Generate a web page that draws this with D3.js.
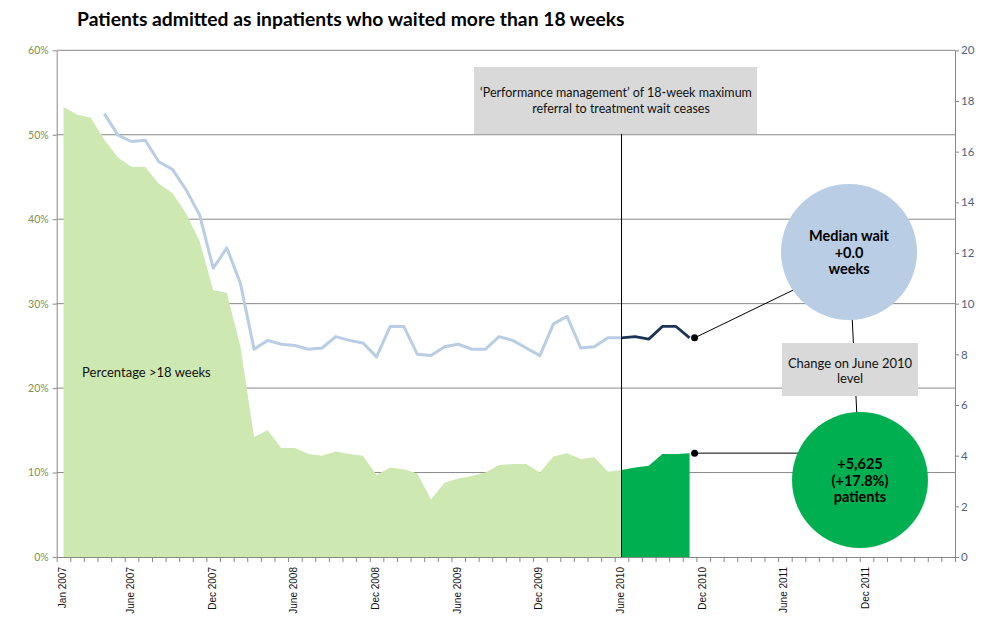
<!DOCTYPE html>
<html lang="en">
<head>
<meta charset="utf-8">
<title>Patients waiting more than 18 weeks</title>
<script src="https://d3js.org/d3.v7.min.js"></script>
<style>
  body { margin: 0; background: #fff; }
  svg { display: block; }
</style>
</head>
<body>
<svg id="chart" width="995" height="626"></svg>
<script>
// months on the category axis: Jan 2007 .. June 2012
var months = d3.timeMonth.range(new Date(2007, 0, 1), new Date(2012, 6, 1));

// % of admitted patients waiting > 18 weeks, Jan 2007 .. June 2010
var pctBefore = [53.3, 52.4, 52.0, 49.4, 47.3, 46.2, 46.2, 44.2, 43.1, 40.7, 37.4, 31.6,
                 31.3, 24.9, 14.2, 15.0, 12.9, 12.9, 12.2, 12.0, 12.5, 12.2, 12.0, 9.7,
                 10.6, 10.4, 9.9, 6.8, 8.8, 9.3, 9.6, 10.0, 10.9, 11.0, 11.0, 10.0,
                 11.9, 12.3, 11.6, 11.8, 10.1, 10.3];
// June 2010 .. Nov 2010
var pctAfter = [10.3, 10.6, 10.8, 12.2, 12.2, 12.3];

// median wait (weeks), Apr 2007 .. June 2010
var waitBefore = [17.5, 16.65, 16.4, 16.45, 15.6, 15.3, 14.5, 13.5, 11.4,
                  12.2, 10.8, 8.2, 8.55, 8.4, 8.35, 8.2, 8.25, 8.7, 8.55, 8.45, 7.9,
                  9.1, 9.1, 8.0, 7.95, 8.3, 8.4, 8.2, 8.2, 8.7, 8.55, 8.25, 7.95,
                  9.2, 9.5, 8.25, 8.3, 8.65, 8.65];
// June 2010 .. Nov 2010
var waitAfter = [8.65, 8.7, 8.6, 9.1, 9.1, 8.65];

var tickMonths = ["2007-01", "2007-06", "2007-12", "2008-06", "2008-12", "2009-06",
                  "2009-12", "2010-06", "2010-12", "2011-06", "2011-12"];
var tickLabels = ["Jan 2007", "June 2007", "Dec 2007", "June 2008", "Dec 2008", "June 2009",
                  "Dec 2009", "June 2010", "Dec 2010", "June 2011", "Dec 2011"];

var pctTicks = [0, 10, 20, 30, 40, 50, 60];
var weekTicks = [0, 2, 4, 6, 8, 10, 12, 14, 16, 18, 20];

// colours
var lightGreen = "#cde8b1",
    darkGreen = "#00b050",
    lightBlue = "#b9cde4",
    navy = "#1b3555",
    grid = "#888888",
    boxGrey = "#d9d9d9";

// plot frame (px)
var pLeft = 56.7, pRight = 955, pTop = 50.3, pBottom = 557;

var svg = d3.select("#chart");
var key = d3.timeFormat("%Y-%m");

var x = d3.scaleBand().domain(months.map(key)).range([pLeft, pRight]).padding(0);
var bw = x.bandwidth();
function xc(i) { return x(key(months[i])) + bw / 2; }
var y = d3.scaleLinear().domain([0, 60]).range([pBottom, pTop]);
var yw = d3.scaleLinear().domain([0, 20]).range([pBottom, pTop]);

var idxJun2010 = months.findIndex(function (m) { return key(m) === "2010-06"; });
var idxApr2007 = 3;

// gridlines
svg.append("g").selectAll("line").data(pctTicks.slice(1)).join("line")
  .attr("x1", pLeft).attr("x2", pRight)
  .attr("y1", function (d) { return y(d); }).attr("y2", function (d) { return y(d); })
  .attr("stroke", grid).attr("stroke-width", 1);

// green areas
var area = d3.area()
  .x(function (d) { return xc(d.i); })
  .y0(pBottom).y1(function (d) { return y(d.v); });

var before = pctBefore.map(function (v, i) { return { i: i, v: v }; });
var after = pctAfter.map(function (v, i) { return { i: i + idxJun2010, v: v }; });
svg.append("path").datum(before).attr("d", area).attr("fill", lightGreen);
svg.append("path").datum(after).attr("d", area).attr("fill", darkGreen);

// median wait lines
var line = d3.line().x(function (d) { return xc(d.i); }).y(function (d) { return yw(d.v); });
var wb = waitBefore.map(function (v, i) { return { i: i + idxApr2007, v: v }; });
var wa = waitAfter.map(function (v, i) { return { i: i + idxJun2010, v: v }; });
svg.append("path").datum(wb).attr("d", line).attr("fill", "none")
  .attr("stroke", lightBlue).attr("stroke-width", 3).attr("stroke-linejoin", "round");
svg.append("path").datum(wa).attr("d", line).attr("fill", "none")
  .attr("stroke", navy).attr("stroke-width", 2.8).attr("stroke-linejoin", "round");

// axes
var xIdx = d3.scaleLinear().domain([0, months.length]).range([pLeft, pRight]);
var xAxis = svg.append("g").attr("transform", "translate(0," + pBottom + ")")
  .call(d3.axisBottom(xIdx).tickValues(d3.range(0, months.length + 1)).tickFormat("").tickSize(5).tickSizeOuter(0));
xAxis.selectAll("line, path").attr("stroke", grid);

svg.append("g").selectAll("text").data(tickMonths).join("text")
  .attr("transform", function (d) { return "translate(" + (x(d) + bw / 2 - 1) + "," + (pBottom + 10) + ") rotate(-90)"; })
  .attr("text-anchor", "end").attr("dy", "0.35em")
  .attr("font-family", "Liberation Sans, Arial, sans-serif").attr("font-size", 10).attr("fill", "#111")
  .text(function (d, i) { return tickLabels[i]; });

var yAxis = svg.append("g").attr("transform", "translate(" + pLeft + ",0)")
  .call(d3.axisLeft(y).tickValues(pctTicks).tickFormat(function (d) { return d + "%"; }).tickSize(4).tickSizeOuter(0));
yAxis.selectAll("line, path").attr("stroke", grid);
yAxis.selectAll("text").attr("font-family", "Lato, sans-serif").attr("font-size", 10.5).attr("fill", "#7d9150").attr("x", -8);

var wAxis = svg.append("g").attr("transform", "translate(" + pRight + ",0)")
  .call(d3.axisRight(yw).tickValues(weekTicks).tickSize(4).tickSizeOuter(0));
wAxis.selectAll("line, path").attr("stroke", grid);
wAxis.selectAll("text").attr("font-family", "Lato, sans-serif").attr("font-size", 11.5).attr("fill", "#4f6180").attr("x", 6);

// vertical marker at June 2010
svg.append("line")
  .attr("x1", xc(idxJun2010)).attr("x2", xc(idxJun2010))
  .attr("y1", 134).attr("y2", pBottom)
  .attr("stroke", "#000").attr("stroke-width", 1);

// annotation box at the top
svg.append("rect").attr("x", 474).attr("y", 67).attr("width", 283).attr("height", 67).attr("fill", boxGrey);
function fitText(t, w) {
  var cur = t.node().getComputedTextLength();
  t.attr("font-size", parseFloat(t.attr("font-size")) * w / cur);
}
var a1 = svg.append("text").attr("x", 616).attr("y", 97).attr("text-anchor", "middle")
  .attr("font-family", "Lato, sans-serif").attr("font-size", 12).attr("fill", "#111")
  .text("\u2018Performance management\u2019 of 18-week maximum");
fitText(a1, 272);
var a2 = svg.append("text").attr("x", 621).attr("y", 113).attr("text-anchor", "middle")
  .attr("font-family", "Lato, sans-serif").attr("font-size", 12).attr("fill", "#111")
  .text("referral to treatment wait ceases");
a2.attr("font-size", a1.attr("font-size"));

// area label
svg.append("text").attr("x", xc(1) + 5).attr("y", y(21.8)).attr("dy", "0.35em")
  .attr("font-family", "Lato, sans-serif").attr("font-size", 13).attr("fill", "#111")
  .text("Percentage >18 weeks");

// bubbles and connectors
var lastW = wa[wa.length - 1], lastP = after[after.length - 1];
var dotX = xc(lastW.i) + 5;
var blue = { cx: 849, cy: 252, r: 68 }, green = { cx: 860, cy: 480, r: 68 };

svg.append("line").attr("x1", blue.cx).attr("y1", blue.cy).attr("x2", green.cx).attr("y2", green.cy)
  .attr("stroke", "#000").attr("stroke-width", 1);
svg.append("line").attr("x1", dotX).attr("y1", yw(lastW.v)).attr("x2", blue.cx).attr("y2", blue.cy + 11)
  .attr("stroke", "#000").attr("stroke-width", 1);
svg.append("line").attr("x1", dotX).attr("y1", y(lastP.v)).attr("x2", green.cx).attr("y2", y(lastP.v))
  .attr("stroke", "#000").attr("stroke-width", 1);

svg.append("circle").attr("cx", dotX).attr("cy", yw(lastW.v)).attr("r", 3.5).attr("fill", "#000");
svg.append("circle").attr("cx", dotX).attr("cy", y(lastP.v)).attr("r", 3.5).attr("fill", "#000");

svg.append("circle").attr("cx", blue.cx).attr("cy", blue.cy).attr("r", blue.r).attr("fill", lightBlue);
svg.append("circle").attr("cx", green.cx).attr("cy", green.cy).attr("r", green.r).attr("fill", darkGreen);

function bubbleText(c, lines, dy0) {
  svg.append("g").selectAll("text").data(lines).join("text")
    .attr("x", c.cx).attr("y", function (d, i) { return c.cy + dy0 + i * 16.5; })
    .attr("dy", "0.35em").attr("text-anchor", "middle")
    .attr("font-family", "Lato, sans-serif").attr("font-weight", "bold").attr("font-size", 14.5).attr("fill", "#000")
    .text(function (d) { return d; });
}
bubbleText(blue, ["Median wait", "+0.0", "weeks"], -16);
bubbleText(green, ["+5,625", "(+17.8%)", "patients"], -16);

// change box
svg.append("rect").attr("x", 782).attr("y", 343).attr("width", 136).attr("height", 53).attr("fill", boxGrey);
svg.append("g").selectAll("text").data(["Change on June 2010", "level"]).join("text")
  .attr("x", 850).attr("y", function (d, i) { return 363 + i * 15; })
  .attr("dy", "0.35em").attr("text-anchor", "middle")
  .attr("font-family", "Lato, sans-serif").attr("font-size", 13).attr("fill", "#111")
  .text(function (d) { return d; });

// title
var title = svg.append("text").attr("x", 77).attr("y", 26)
  .attr("font-family", "Lato, sans-serif").attr("font-weight", "bold").attr("font-size", 18).attr("fill", "#000")
  .text("Patients admitted as inpatients who waited more than 18 weeks");
fitText(title, 548);
</script>
</body>
</html>
